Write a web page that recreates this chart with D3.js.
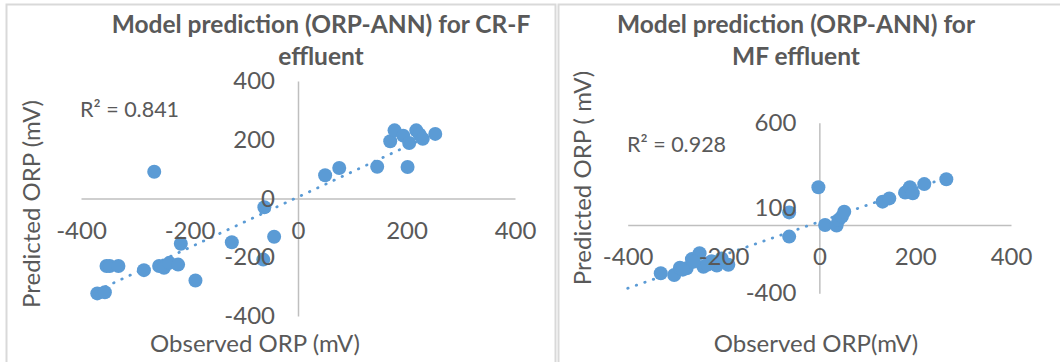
<!DOCTYPE html>
<html lang="en">
<head>
<meta charset="utf-8">
<title>Model prediction (ORP-ANN)</title>
<script src="https://cdn.jsdelivr.net/npm/d3@7"></script>
<style>
	body { margin: 0; background: #fff; }
	svg text { font-family: Lato, "Noto Sans", sans-serif; fill: #595959; }
	.axis-line path { stroke: #bfbfbf; stroke-width: 1.5; }
	.axis-label text { font-size: 24px; }
	.title { font-size: 24.5px; font-weight: bold; }
	.axis-title { font-size: 24px; }
	.r2 { font-size: 21.5px; }
</style>
</head>
<body>
<script>

// CR-F effluent: observed vs predicted ORP (mV)
var crfObserved  = [-370, -356, -353, -347, -331, -284, -265, -256, -247, -237, -221, -216, -189, -122, -62, -64, -44, 50, 76, 146, 170, 178, 194, 202, 205, 218, 224, 230, 253];
var crfPredicted = [-323, -319, -230, -230, -230, -244,   91, -230, -236, -219, -225, -154, -279, -149, -30, -208, -130, 79, 104, 108, 195, 232, 214, 107, 189, 232, 218, 203, 220];
var crfTrend = [0.86, 5];          // slope, intercept
var crfR2 = "R² = 0.841";

// MF effluent
var mfObserved  = [-2, -63, -63, 12, 36, 40, 47, 52, 132, 146, 179, 189, 195, 219, 265, -331, -303, -291, -277, -266, -250, -242, -225, -214, -204, -190, -262, -285, -233];
var mfPredicted = [221, 74, -68, 0, -3, 30, 49, 78, 137, 156, 190, 221, 186, 240, 268, -283, -293, -250, -254, -200, -166, -245, -213, -238, -196, -233, -215, -262, -232];
var mfTrend = [0.975, 19];
var mfTrendRange = [-400, 265];
var mfR2 = "R² = 0.928";

var xTicks = [-400, -200, 0, 200, 400];
var crfYTicks = [-400, -200, 0, 200, 400];
var mfYTicks = [-400, 100, 600];

var svg = d3.select("body").append("svg")
	.attr("width", 1060)
	.attr("height", 362);

// chart area borders
svg.append("rect").attr("x", 6.5).attr("y", 4.5).attr("width", 549).attr("height", 370)
	.attr("fill", "none").attr("stroke", "#d9d9d9").attr("stroke-width", 2);
svg.append("rect").attr("x", 558.5).attr("y", 4.5).attr("width", 520).attr("height", 370)
	.attr("fill", "none").attr("stroke", "#d9d9d9").attr("stroke-width", 2);

function drawPanel(p) {
	var x = d3.scaleLinear().domain([-400, 400]).range(p.xRange);
	var y = d3.scaleLinear().domain(p.yDomain).range(p.yRange);
	var fmt = function(d) { return String(d); };

	// axis lines crossing at zero
	svg.append("g").attr("class", "axis-line")
		.attr("transform", "translate(0," + y(0) + ")")
		.call(d3.axisBottom(x).tickValues([]).tickSizeOuter(0));
	svg.append("g").attr("class", "axis-line")
		.attr("transform", "translate(" + x(0) + ",0)")
		.call(d3.axisLeft(y).tickValues([]).tickSizeOuter(0));

	// trendline (dotted)
	var t = p.trendRange || d3.extent(p.obs);
	svg.append("line")
		.attr("x1", x(t[0])).attr("y1", y(p.trend[0] * t[0] + p.trend[1]))
		.attr("x2", x(t[1])).attr("y2", y(p.trend[0] * t[1] + p.trend[1]))
		.attr("stroke", "#5b9bd5").attr("stroke-width", 2.75)
		.attr("stroke-linecap", "round").attr("stroke-dasharray", "0.5 8.5");

	svg.append("g").selectAll("circle")
		.data(d3.zip(p.obs, p.pred))
		.enter()
		.append("circle")
		.attr("cx", function(d) { return x(d[0]); })
		.attr("cy", function(d) { return y(d[1]); })
		.attr("r", 7)
		.attr("fill", "#5b9bd5");

	// tick labels on top of the points
	svg.append("g").attr("class", "axis-label")
		.attr("transform", "translate(0," + y(0) + ")")
		.call(d3.axisBottom(x).tickValues(xTicks).tickSize(0).tickPadding(23).tickFormat(fmt))
		.call(function(g) { g.select(".domain").remove(); })
		.selectAll("text").attr("fill", null);
	svg.append("g").attr("class", "axis-label")
		.attr("transform", "translate(" + x(0) + ",0)")
		.call(d3.axisLeft(y).tickValues(p.yTicks).tickSize(0).tickPadding(23).tickFormat(fmt))
		.call(function(g) { g.select(".domain").remove(); })
		.selectAll("text").attr("fill", null);

	var title = svg.append("text").attr("class", "title").attr("text-anchor", "middle");
	p.title.forEach(function(line, i) {
		title.append("tspan").attr("x", p.titleX).attr("y", 33 + i * 32).text(line);
	});

	svg.append("text").attr("class", "r2")
		.attr("x", p.r2Pos[0]).attr("y", p.r2Pos[1]).text(p.r2);

	svg.append("text").attr("class", "axis-title").attr("text-anchor", "middle")
		.attr("x", p.xTitleX).attr("y", 352).text(p.xTitle);

	svg.append("text").attr("class", "axis-title").attr("text-anchor", "middle")
		.attr("transform", "translate(" + p.yTitlePos[0] + "," + p.yTitlePos[1] + ") rotate(-90)")
		.attr("dy", "0.35em").text(p.yTitle);
}

drawPanel({
	obs: crfObserved, pred: crfPredicted, trend: crfTrend,
	xRange: [81, 515], yDomain: [-400, 400], yRange: [316, 81], yTicks: crfYTicks,
	title: ["Model prediction (ORP-ANN) for CR-F", "effluent"], titleX: 321,
	r2: crfR2, r2Pos: [80, 117],
	xTitle: "Observed ORP (mV)", xTitleX: 255,
	yTitle: "Predicted ORP (mV)", yTitlePos: [32, 204]
});

drawPanel({
	obs: mfObserved, pred: mfPredicted, trend: mfTrend, trendRange: mfTrendRange,
	xRange: [627.7, 1011], yDomain: [-400, 600], yRange: [293.2, 122.7], yTicks: mfYTicks,
	title: ["Model prediction (ORP-ANN) for", "MF effluent"], titleX: 796,
	r2: mfR2, r2Pos: [627, 152],
	xTitle: "Observed ORP(mV)", xTitleX: 816,
	yTitle: "Predicted ORP ( mV)", yTitlePos: [583, 178]
});

</script>
</body>
</html>
